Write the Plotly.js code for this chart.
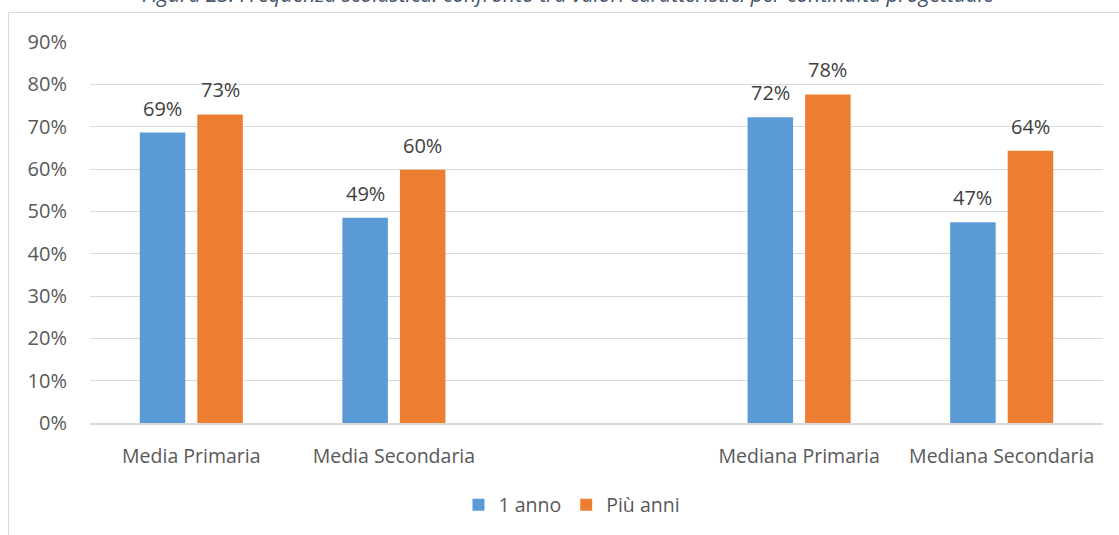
<!DOCTYPE html>
<html>
<head>
<meta charset="utf-8">
<script src="https://cdn.plot.ly/plotly-3.0.1.min.js"></script>
<style>
html,body{margin:0;padding:0;background:#fff;}
#chart{width:1119px;height:535px;}
</style>
</head>
<body>
<div id="chart"></div>
<script>
const categories = ["Media Primaria", "Media Secondaria", " ", "Mediana Primaria", "Mediana Secondaria"];
const seriesNames = ["1 anno", "Più anni"];
const oneYear = [0.686, 0.485, null, 0.722, 0.474];
const moreYears = [0.729, 0.598, null, 0.776, 0.643];
const yTickVals = [0, 0.1, 0.2, 0.3, 0.4, 0.5, 0.6, 0.7, 0.8, 0.9];
const titleText = "Figura 23: Frequenza scolastica: confronto tra valori caratteristici per continuità progettuale";

const colors = ["#5b9bd5", "#ed7d31"];
const FONT = "Open Sans, Noto Sans, sans-serif";

const W = 1119, H = 535;
const L = 90, R = 16, T = 42, B = 111;
const pw = W - L - R, ph = H - T - B;
const px2x = p => (p - L) / pw;
const py2y = p => (H - B - p) / ph;

const traces = [oneYear, moreYears].map((vals, i) => ({
  type: "bar",
  name: seriesNames[i],
  x: categories,
  y: vals,
  marker: {color: colors[i], line: {width: 0}},
  hoverinfo: "skip"
}));

const annotations = [];
const slotHalf = 28.75;
[oneYear, moreYears].forEach((vals, i) => {
  vals.forEach((v, j) => {
    if (v === null) return;
    annotations.push({
      x: categories[j], y: v, xref: "x", yref: "y",
      text: Math.round(v * 100) + "%",
      showarrow: false, yanchor: "bottom", xanchor: "center",
      xshift: i === 0 ? -slotHalf : slotHalf, yshift: 9,
      font: {family: FONT, size: 20, color: "#404040"}
    });
  });
});
annotations.push({
  xref: "paper", yref: "paper", x: px2x(568), y: py2y(10),
  xanchor: "center", yanchor: "bottom", showarrow: false,
  text: "<i>" + titleText + "</i>",
  font: {family: FONT, size: 21, color: "#44546a"}
});

const layout = {
  width: W, height: H,
  margin: {l: L, r: R, t: T, b: B, pad: 0},
  paper_bgcolor: "#fff", plot_bgcolor: "#fff",
  barmode: "group", bargap: 0.432, bargroupgap: 0.209,
  showlegend: true,
  legend: {
    orientation: "h", x: px2x(572), xanchor: "center", y: py2y(505), yanchor: "middle",
    font: {family: FONT, size: 19.5, color: "#595959"}, itemclick: false, traceorder: "normal"
  },
  xaxis: {
    type: "category", categoryorder: "array", categoryarray: categories,
    showgrid: false, showline: true, linecolor: "#d9d9d9", linewidth: 2,
    ticks: "", ticklabelstandoff: 15, zeroline: false,
    tickfont: {family: FONT, size: 19.5, color: "#595959"}, fixedrange: true
  },
  yaxis: {
    range: [0, 0.9], tickvals: yTickVals, tickformat: ".0%",
    showgrid: true, gridcolor: "#d9d9d9", gridwidth: 1, zeroline: false,
    showline: false, ticks: "", ticklabelstandoff: 22,
    tickfont: {family: FONT, size: 20, color: "#595959"}, fixedrange: true
  },
  annotations: annotations,
  shapes: [{
    type: "rect", xref: "paper", yref: "paper",
    x0: px2x(8.5), x1: px2x(1130), y0: py2y(545), y1: py2y(12.5),
    line: {color: "#d9d9d9", width: 1}, fillcolor: "rgba(0,0,0,0)", layer: "below"
  }],
  font: {family: FONT}
};

Plotly.newPlot("chart", traces, layout, {displayModeBar: false, staticPlot: true});
</script>
</body>
</html>
